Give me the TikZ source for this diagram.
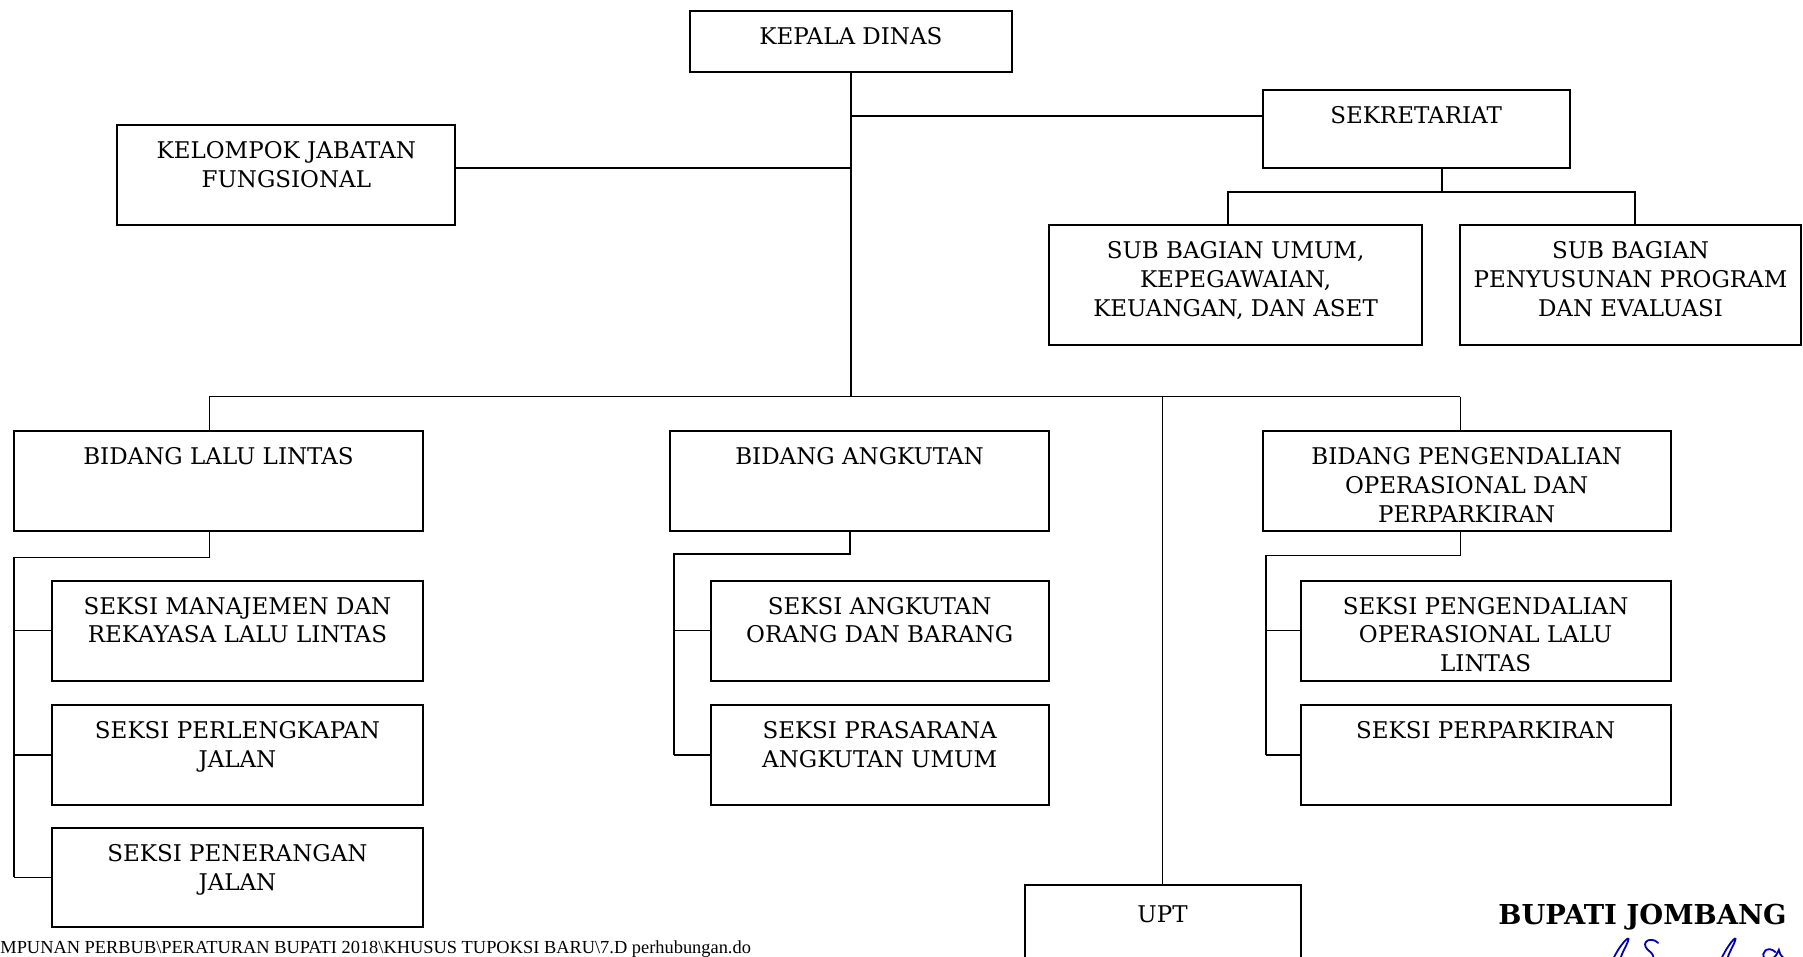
\documentclass[tikz,border=0pt]{standalone}
\usepackage{fontspec}
\setmainfont{DejaVu Serif}
\newfontfamily\footfont{Liberation Serif}
\usetikzlibrary{fit,calc}
\tikzset{
  obox/.style={draw, line width=1pt, inner sep=0pt, outer sep=0pt},
  olbl/.style={align=center, inner sep=0pt, font=\fontsize{11.5}{14.4}\selectfont},
  conn/.style={line width=0.75pt},
  sig/.style={draw=blue!70!black, line width=0.9pt, line cap=round}
}
\newcommand{\obx}[6]{%
  \node[obox, fit={(#2,#3)(#4,#5)}] (#1) {};
  \node[olbl, anchor=north] (#1-t) at ([yshift=-8pt]#1.north) {#6};}
\begin{document}
\begin{tikzpicture}[x=0.575pt, y=-0.575pt]
\useasboundingbox (0,0) rectangle (1568,832);
\clip (0,0) rectangle (1568,832);
% boxes
\obx{kd}{600}{10}{880}{63}{KEPALA DINAS}
\obx{sek}{1098}{78}{1365}{146}{SEKRETARIAT}
\obx{kjf}{102}{109}{396}{196}{KELOMPOK JABATAN\\FUNGSIONAL}
\obx{sba}{912}{196}{1237}{300}{SUB BAGIAN UMUM,\\KEPEGAWAIAN,\\KEUANGAN, DAN ASET}
\obx{sbp}{1270}{196}{1566}{300}{SUB BAGIAN\\PENYUSUNAN PROGRAM\\DAN EVALUASI}
\obx{bll}{12}{375}{368}{462}{BIDANG LALU LINTAS}
\obx{ba}{583}{375}{912}{462}{BIDANG ANGKUTAN}
\obx{bpo}{1098}{375}{1453}{462}{BIDANG PENGENDALIAN\\OPERASIONAL DAN\\PERPARKIRAN}
\obx{sm}{45}{505}{368}{592}{SEKSI MANAJEMEN DAN\\REKAYASA LALU LINTAS}
\obx{spj}{45}{613}{368}{700}{SEKSI PERLENGKAPAN\\JALAN}
\obx{spn}{45}{720}{368}{806}{SEKSI PENERANGAN\\JALAN}
\obx{sao}{618}{505}{912}{592}{SEKSI ANGKUTAN\\ORANG DAN BARANG}
\obx{spa}{618}{613}{912}{700}{SEKSI PRASARANA\\ANGKUTAN UMUM}
\obx{spo}{1131}{505}{1453}{592}{SEKSI PENGENDALIAN\\OPERASIONAL LALU\\LINTAS}
\obx{spk}{1131}{613}{1453}{700}{SEKSI PERPARKIRAN}
\node[obox, fit={(891,770)(1131,860)}] (upt) {};
\node[olbl, anchor=north] (upt-t) at ([yshift=-10pt]upt.north) {UPT};
% top connectors
\coordinate (busL) at (182,345);
\coordinate (busR) at (1270,345);
\coordinate (kS) at (740,101);
\coordinate (kK) at (740,146);
\draw[conn] (kd.south) -- (kd.south |- busL);
\draw[conn] (kS) -- (kS -| sek.west);
\draw[conn] (kK) -- (kK -| kjf.east);
\draw[conn] (busL) -- (busR);
\draw[conn] (busL) -- (busL |- bll.north);
\draw[conn] (busR) -- (busR |- bpo.north);
\draw[conn] (upt.north |- busL) -- (upt.north);
% sekretariat
\coordinate (sd) at (1254,167);
\coordinate (sdL) at (1068,167);
\coordinate (sdR) at (1422,167);
\draw[conn] (sd |- sek.south) -- (sd);
\draw[conn] (sdL |- sba.north) -- (sdL) -- (sdR) -- (sdR |- sbp.north);
% lalu lintas
\coordinate (l1) at (182,485);
\coordinate (l2) at (12,485);
\draw[conn] (l1 |- bll.south) -- (l1) -- (l2) -- (l2 |- spn.west);
\draw[conn] (l2 |- sm.west) -- (sm.west);
\draw[conn] (l2 |- spj.west) -- (spj.west);
\draw[conn] (l2 |- spn.west) -- (spn.west);
% angkutan
\coordinate (a1) at (739,482);
\coordinate (a2) at (586,482);
\draw[conn] (a1 |- ba.south) -- (a1) -- (a2) -- (a2 |- spa.west);
\draw[conn] (a2 |- sao.west) -- (sao.west);
\draw[conn] (a2 |- spa.west) -- (spa.west);
% pengendalian
\coordinate (p1) at (1270,483);
\coordinate (p2) at (1101,483);
\draw[conn] (p1 |- bpo.south) -- (p1) -- (p2) -- (p2 |- spk.west);
\draw[conn] (p2 |- spo.west) -- (spo.west);
\draw[conn] (p2 |- spk.west) -- (spk.west);
% signature block
\node[anchor=base east, inner sep=0pt, font=\fontsize{13.7}{16}\selectfont\bfseries] (bupati) at (1554,804) {BUPATI JOMBANG};
\path[sig] (1402,836) .. controls (1408,822) and (1418,812) .. (1416,818) .. controls (1414,824) and (1408,832) .. (1409,838);
\path[sig] (1442,820) .. controls (1436,814) and (1426,819) .. (1433,826) .. controls (1440,831) and (1440,836) .. (1430,838);
\path[sig] (1496,836) .. controls (1502,822) and (1511,812) .. (1509,818) .. controls (1507,824) and (1501,832) .. (1502,838);
\path[sig] (1544,828) .. controls (1538,822) and (1530,828) .. (1535,834) .. controls (1540,837) and (1545,832) .. (1547,826) .. controls (1548,832) and (1552,836) .. (1560,834);
% footer
\node[anchor=base west, inner sep=0pt, font=\footfont\fontsize{9.2}{11}\selectfont] (foot) at (0,829.5) {MPUNAN PERBUB\textbackslash PERATURAN BUPATI 2018\textbackslash KHUSUS TUPOKSI BARU\textbackslash 7.D perhubungan.do};
\end{tikzpicture}
\end{document}
